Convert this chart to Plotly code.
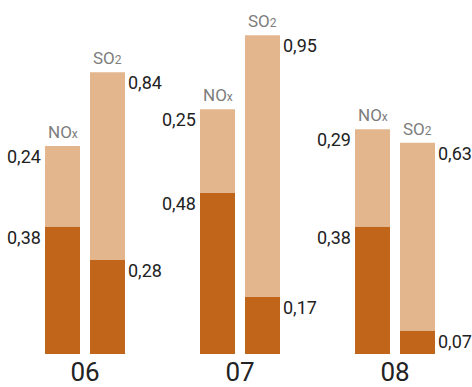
import plotly.graph_objects as go

years = ["06", "07", "08"]
nox_low = [0.38, 0.48, 0.38]
nox_high = [0.24, 0.25, 0.29]
so2_low = [0.28, 0.17, 0.07]
so2_total = [0.84, 0.95, 0.63]

DARK = "#c0651a"
LIGHT = "#e3b68e"
TEXT = "#222222"
GREY = "#7d7d7d"
FONT = "Roboto"

W, H = 472, 387
GROUP_PX = 155          # one category step
FIRST_PX = 85           # centre of the first group
BAR_W = 35 / GROUP_PX
NOX_OFF = -40 / GROUP_PX
SO2_OFF = 5 / GROUP_PX
PX_PER_UNIT = 343
PLOT_H = 362

idx = list(range(len(years)))
so2_high = [t - l for t, l in zip(so2_total, so2_low)]
nox_total = [l + h for l, h in zip(nox_low, nox_high)]


def fmt(v):
    return f"{v:.2f}".replace(".", ",")


fig = go.Figure()
for low, high, off in ((nox_low, nox_high, NOX_OFF), (so2_low, so2_high, SO2_OFF)):
    fig.add_trace(go.Bar(x=idx, y=low, width=BAR_W, offset=off,
                         marker=dict(color=DARK, line=dict(width=0))))
    fig.add_trace(go.Bar(x=idx, y=high, base=low, width=BAR_W, offset=off,
                         marker=dict(color=LIGHT, line=dict(width=0))))

ann = []
lab = dict(size=18, color=TEXT, family=FONT)
name_font = dict(size=17, color=GREY, family=FONT)
for i in idx:
    nx_l = i + NOX_OFF
    so_r = i + SO2_OFF + BAR_W
    # NOx values on the left
    ann.append(dict(x=nx_l, y=nox_total[i], text=fmt(nox_high[i]),
                    xanchor="right", yanchor="top", xshift=-2, yshift=2, font=lab))
    ann.append(dict(x=nx_l, y=nox_low[i], text=fmt(nox_low[i]),
                    xanchor="right", yanchor="top", xshift=-2, yshift=2, font=lab))
    # SO2 values on the right
    ann.append(dict(x=so_r, y=so2_total[i], text=fmt(so2_total[i]),
                    xanchor="left", yanchor="top", xshift=1, yshift=2, font=lab))
    ann.append(dict(x=so_r, y=so2_low[i], text=fmt(so2_low[i]),
                    xanchor="left", yanchor="top", xshift=1, yshift=2, font=lab))
    # series names
    ann.append(dict(x=i + NOX_OFF + BAR_W / 2, y=nox_total[i],
                    text="NO<span style='font-size:12px'>x</span>",
                    xanchor="center", yanchor="bottom", yshift=2, font=name_font))
    ann.append(dict(x=i + SO2_OFF + BAR_W / 2, y=so2_total[i],
                    text="SO<span style='font-size:12px'>2</span>",
                    xanchor="center", yanchor="bottom", yshift=2, font=name_font))
for a in ann:
    a.update(showarrow=False, xref="x", yref="y")

fig.update_layout(
    width=W, height=H,
    margin=dict(l=0, r=0, t=0, b=H - PLOT_H),
    plot_bgcolor="white", paper_bgcolor="white",
    barmode="overlay", showlegend=False, hovermode=False,
    annotations=ann,
    xaxis=dict(range=[-FIRST_PX / GROUP_PX, (W - FIRST_PX) / GROUP_PX],
               tickvals=idx, ticktext=years, showgrid=False, zeroline=False,
               showline=False, ticks="",
               tickfont=dict(size=26, color=TEXT, family=FONT)),
    yaxis=dict(range=[0, PLOT_H / PX_PER_UNIT], visible=False),
)

# drop the default 8px page margin so the figure sits at the window corner
fig.write_html("out.html", config={"displayModeBar": False},
               post_script="document.body.style.margin = '0';")
